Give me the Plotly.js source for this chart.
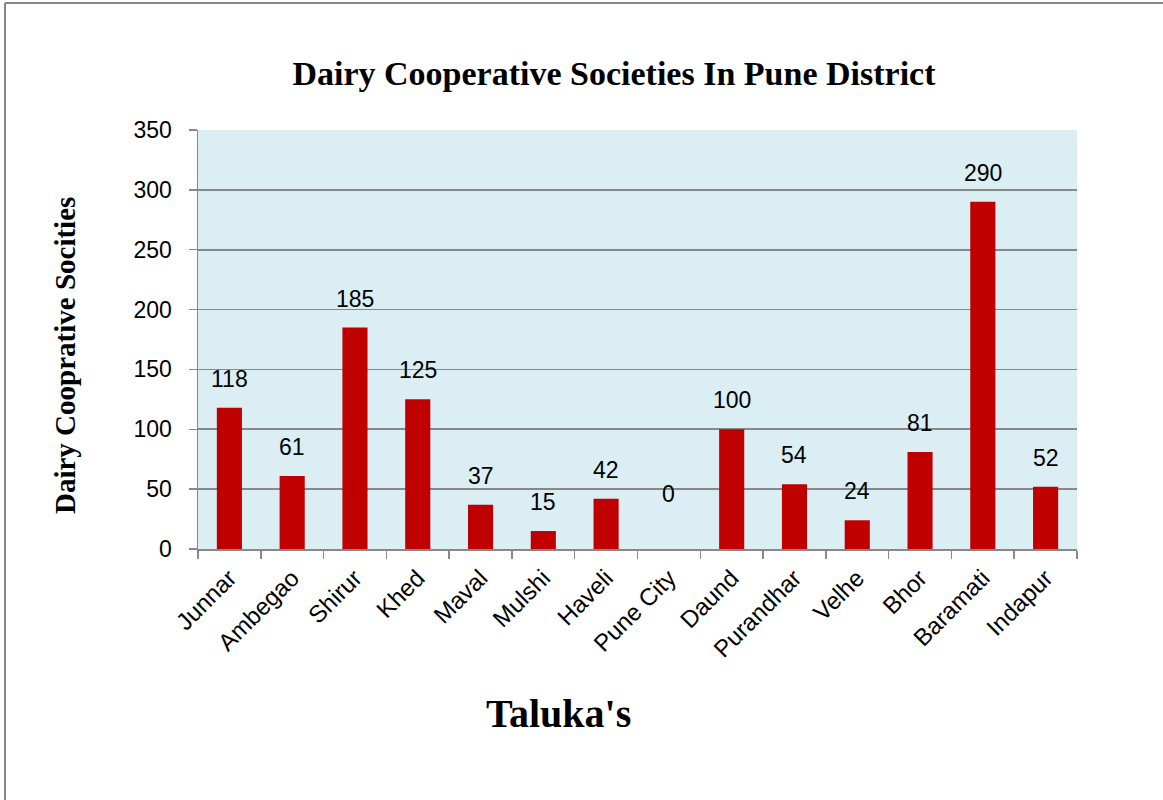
<!DOCTYPE html>
<html>
<head>
<meta charset="utf-8">
<script src="https://cdn.plot.ly/plotly-3.0.1.min.js"></script>
<style>
html,body{margin:0;padding:0;background:#fff;}
#chart{width:1163px;height:800px;}
</style>
</head>
<body>
<div id="chart"></div>
<script>
const talukas = ["Junnar","Ambegao","Shirur","Khed","Maval","Mulshi","Haveli","Pune City","Daund","Purandhar","Velhe","Bhor","Baramati","Indapur"];
const societies = [118, 61, 185, 125, 37, 15, 42, 0, 100, 54, 24, 81, 290, 52];
const yTicks = [0, 50, 100, 150, 200, 250, 300, 350];

const L = 198, R = 1077, T = 130, B = 549, W = 1163, H = 800;
const px = v => (v - L) / (R - L);
const py = v => (B - v) / (B - T);

const labelAnns = talukas.map((t, i) => ({
  x: t, y: societies[i], xref: 'x', yref: 'y',
  text: String(societies[i]), showarrow: false,
  yanchor: 'bottom', yshift: societies[i] === 0 ? 40 : 14,
  font: {family: 'Liberation Sans, Arial, sans-serif', size: 23, color: '#000'}
}));

const trace = {
  type: 'bar', x: talukas, y: societies,
  marker: {color: '#C00000'},
  hoverinfo: 'x+y'
};

const layout = {
  width: W, height: H,
  margin: {l: L, r: W - R, t: T, b: H - B},
  paper_bgcolor: '#ffffff',
  plot_bgcolor: '#DBEEF4',
  bargap: 0.6,
  showlegend: false,
  title: {
    text: 'Dairy Cooperative Societies In Pune District',
    font: {family: 'Liberation Serif, serif', size: 34, color: '#000', weight: 'bold'},
    x: 614 / W, xanchor: 'center', xref: 'container',
    y: 1 - 73 / H, yanchor: 'middle', yref: 'container'
  },
  xaxis: {
    type: 'category',
    tickangle: -45,
    tickfont: {family: 'Liberation Sans, Arial, sans-serif', size: 24, color: '#000'},
    ticks: 'outside', tickson: 'boundaries', ticklen: 8, tickcolor: '#888', tickwidth: 1.5,
    ticklabelstandoff: 4,
    showline: true, linecolor: '#888', linewidth: 1.5,
    showgrid: false, fixedrange: true
  },
  yaxis: {
    range: [0, 350],
    tickvals: yTicks,
    tickfont: {family: 'Liberation Sans, Arial, sans-serif', size: 23, color: '#000'},
    ticks: 'outside', ticklen: 8, tickcolor: '#888', tickwidth: 1.5,
    ticklabelstandoff: 12,
    showline: true, linecolor: '#888', linewidth: 1.5,
    showgrid: true, gridcolor: '#888', gridwidth: 1.8,
    zeroline: false, fixedrange: true,
    automargin: false
  },
  annotations: labelAnns.concat([{
    text: "Taluka's", xref: 'paper', yref: 'paper',
    x: px(558), y: py(713), xanchor: 'center', yanchor: 'middle', showarrow: false,
    font: {family: 'Liberation Serif, serif', size: 40, color: '#000', weight: 'bold'}
  }, {
    text: 'Dairy Cooprative Socities', xref: 'paper', yref: 'paper',
    x: px(65), y: py(356), xanchor: 'center', yanchor: 'middle', showarrow: false,
    textangle: -90,
    font: {family: 'Liberation Serif, serif', size: 29, color: '#000', weight: 'bold'}
  }]),
  shapes: [
    {type: 'line', xref: 'paper', yref: 'paper', x0: px(5), x1: px(5), y0: py(3), y1: py(810), line: {color: '#888', width: 2}},
    {type: 'line', xref: 'paper', yref: 'paper', x0: px(5), x1: px(1170), y0: py(3), y1: py(3), line: {color: '#888', width: 2}}
  ]
};

Plotly.newPlot('chart', [trace], layout, {displayModeBar: false, staticPlot: true});
</script>
</body>
</html>
